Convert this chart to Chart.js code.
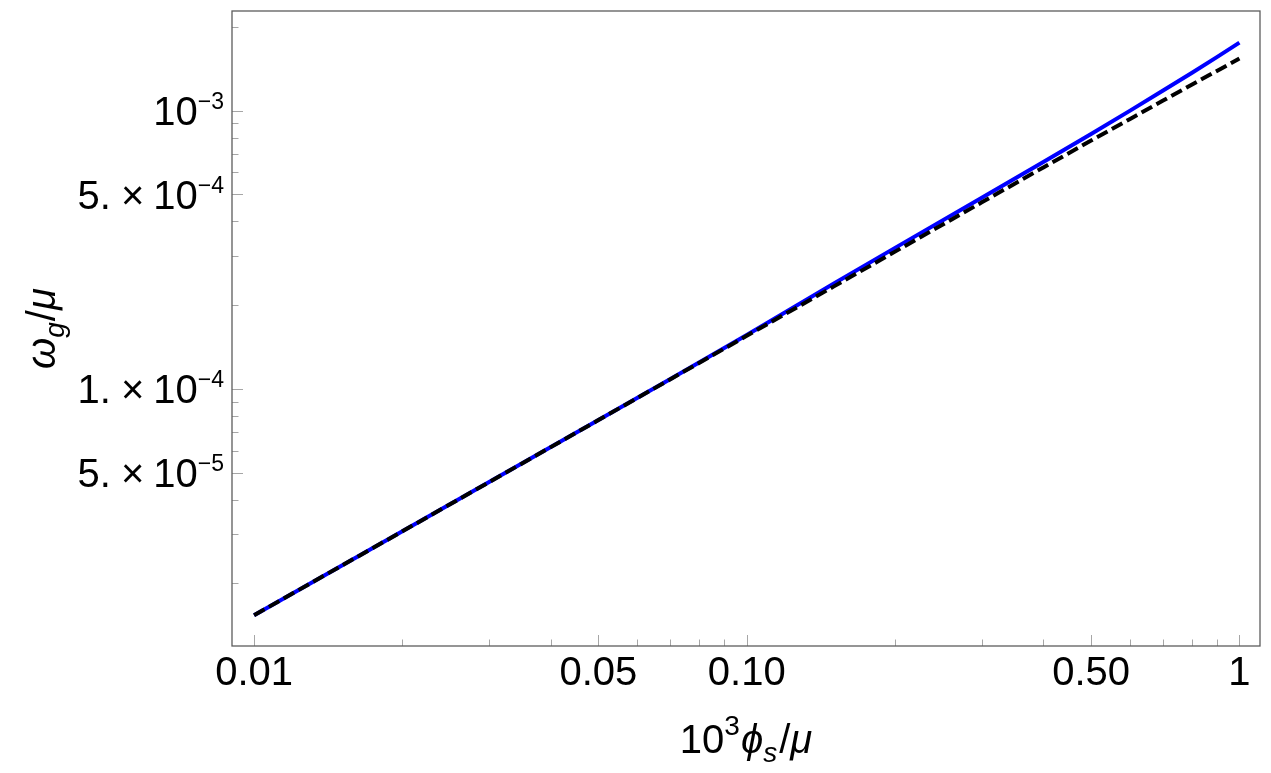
<!DOCTYPE html>
<html>
<head>
<meta charset="utf-8">
<script src="https://cdn.jsdelivr.net/npm/chart.js@4.4.1/dist/chart.umd.min.js"></script>
<style>
  html, body { margin: 0; padding: 0; background: #fff; }
</style>
</head>
<body>
<canvas id="chart" width="1271" height="773"></canvas>
<script>
// values (log-log)
const phiValues = [0.01, 0.02, 0.03, 0.05, 0.07, 0.1, 0.15, 0.2, 0.3, 0.4, 0.5, 0.6, 0.7, 0.8, 0.9, 1];
const omegaFull = [1.535e-5, 3.076e-5, 4.62e-5, 7.725e-5, 1.085e-4, 1.56e-4, 2.385e-4, 3.21e-4, 4.86e-4,
  6.532e-4, 8.24e-4, 9.996e-4, 1.1802e-3, 1.3648e-3, 1.5561e-3, 1.755e-3];
const omegaApprox = [1.535e-5, 3.074e-5, 4.62e-5, 7.72e-5, 1.0829e-4, 1.55e-4, 2.3295e-4, 3.112e-4, 4.68e-4,
  6.248e-4, 7.8e-4, 9.336e-4, 1.0864e-3, 1.2384e-3, 1.3887e-3, 1.538e-3];

const xMajorTicks = [0.01, 0.05, 0.1, 0.5, 1];
const xMajorLabels = ['0.01', '0.05', '0.10', '0.50', '1'];
const xMinorTicks = [0.02, 0.03, 0.04, 0.06, 0.07, 0.08, 0.09, 0.2, 0.3, 0.4, 0.6, 0.7, 0.8, 0.9];

// y labels as mantissa / exponent pairs ("5. × 10^-5" style)
const yMajorTicks = [5e-5, 1e-4, 5e-4, 1e-3];
const yMantissas = ['5.', '1.', '5.', ''];
const yExponents = ['\u22125', '\u22124', '\u22124', '\u22123'];
const yMinorTicks = [2e-5, 3e-5, 4e-5, 6e-5, 7e-5, 8e-5, 9e-5, 2e-4, 3e-4, 4e-4, 6e-4, 7e-4, 8e-4, 9e-4, 2e-3];

const FONT = "'Liberation Sans', Arial, sans-serif";

const findIndex = (v, majors) => majors.findIndex(m => Math.abs(m - v) / m < 1e-6);

const setTicks = (majors, minors) => scale => {
  const all = majors.map(v => ({ value: v, major: true }))
    .concat(minors.map(v => ({ value: v, major: false })));
  all.sort((a, b) => a.value - b.value);
  scale.ticks = all;
};

// inward tick marks + frame, Mathematica style
const framePlugin = {
  id: 'frame',
  afterDatasetsDraw(chart) {
    const { ctx, chartArea: a, scales: { x, y } } = chart;
    ctx.save();
    ctx.strokeStyle = '#a6a6a6';
    ctx.lineWidth = 1;
    ctx.beginPath();
    x.ticks.forEach(t => {
      const px = Math.round(x.getPixelForValue(t.value)) + 0.5;
      ctx.moveTo(px, a.bottom);
      ctx.lineTo(px, a.bottom - (t.major ? 11 : 6.5));
    });
    y.ticks.forEach(t => {
      const py = Math.round(y.getPixelForValue(t.value)) + 0.5;
      ctx.moveTo(a.left, py);
      ctx.lineTo(a.left + (t.major ? 11 : 6.5), py);
    });
    ctx.stroke();
    ctx.strokeStyle = '#5c5c5c';
    ctx.lineWidth = 1.3;
    ctx.strokeRect(a.left, a.top, a.right - a.left, a.bottom - a.top);
    ctx.restore();
  }
};

const fontOf = p => `${p.italic ? 'italic ' : ''}${p.size}px ${FONT}`;

// lay out a run of text pieces; align: 'center' or 'right' around x = 0
const drawRich = (ctx, parts, align) => {
  let total = 0;
  parts.forEach(p => { ctx.font = fontOf(p); p.w = ctx.measureText(p.t).width; total += p.w + (p.gap || 0); });
  let cx = align === 'right' ? -total : -total / 2;
  parts.forEach(p => {
    ctx.font = fontOf(p);
    ctx.fillText(p.t, cx, p.dy || 0);
    cx += p.w + (p.gap || 0);
  });
};

const labelPlugin = {
  id: 'richLabels',
  afterDraw(chart) {
    const { ctx, chartArea: a, scales: { y } } = chart;
    ctx.save();
    ctx.fillStyle = '#000';
    ctx.textBaseline = 'alphabetic';
    ctx.textAlign = 'left';

    // y tick labels with real superscripts
    yMajorTicks.forEach((v, i) => {
      const py = y.getPixelForValue(v);
      const parts = [];
      if (yMantissas[i]) {
        parts.push({ t: yMantissas[i], size: 40, dy: 14.5, gap: 10 });
        parts.push({ t: '×', size: 40, dy: 14.5, gap: 9 });
      }
      parts.push({ t: '10', size: 40, dy: 14.5 });
      parts.push({ t: yExponents[i], size: 23, dy: -1.7 });
      ctx.save();
      ctx.translate(a.left - 8, py);
      drawRich(ctx, parts, 'right');
      ctx.restore();
    });

    // x title
    ctx.save();
    ctx.translate((a.left + a.right) / 2, 753);
    drawRich(ctx, [
      { t: '10', size: 40 },
      { t: '3', size: 28, dy: -18, gap: 1 },
      { t: 'ϕ', size: 40, italic: true },
      { t: 's', size: 28, italic: true, dy: 9, gap: 2 },
      { t: '/', size: 40 },
      { t: 'μ', size: 40, italic: true }
    ], 'center');
    ctx.restore();

    // y title
    ctx.save();
    ctx.translate(55, (a.top + a.bottom) / 2);
    ctx.rotate(-Math.PI / 2);
    drawRich(ctx, [
      { t: 'ω', size: 40, italic: true },
      { t: 'g', size: 28, italic: true, dy: 9, gap: 1 },
      { t: '/', size: 40 },
      { t: 'μ', size: 40, italic: true }
    ], 'center');
    ctx.restore();

    ctx.restore();
  }
};

new Chart(document.getElementById('chart'), {
  type: 'line',
  data: {
    datasets: [
      {
        label: 'full',
        data: phiValues.map((v, i) => ({ x: v, y: omegaFull[i] })),
        borderColor: '#0000ff',
        borderWidth: 4,
        pointRadius: 0,
        tension: 0,
        order: 1
      },
      {
        label: 'approx',
        data: phiValues.map((v, i) => ({ x: v, y: omegaApprox[i] })),
        borderColor: '#000000',
        borderWidth: 4,
        borderDash: [12, 5],
        borderCapStyle: 'butt',
        pointRadius: 0,
        tension: 0,
        order: 0
      }
    ]
  },
  options: {
    responsive: false,
    animation: false,
    devicePixelRatio: 1,
    layout: { padding: { top: 11, right: 11, left: 0, bottom: 0 } },
    plugins: { legend: { display: false }, tooltip: { enabled: false } },
    scales: {
      x: {
        type: 'logarithmic',
        min: 0.00902,
        max: 1.101,
        afterBuildTicks: setTicks(xMajorTicks, xMinorTicks),
        afterFit: s => { s.height = 127; s.paddingLeft = 0; s.paddingRight = 0; },
        grid: { display: false, drawTicks: false },
        border: { display: false },
        ticks: {
          autoSkip: false,
          maxRotation: 0,
          minRotation: 0,
          padding: 4,
          color: '#000',
          font: { family: FONT, size: 40 },
          callback: v => {
            const i = findIndex(v, xMajorTicks);
            return i >= 0 ? xMajorLabels[i] : '';
          }
        }
      },
      y: {
        type: 'logarithmic',
        min: 1.19e-5,
        max: 2.28e-3,
        afterBuildTicks: setTicks(yMajorTicks, yMinorTicks),
        afterFit: s => { s.width = 232; s.paddingTop = 0; s.paddingBottom = 0; },
        grid: { display: false, drawTicks: false },
        border: { display: false },
        ticks: { display: false }
      }
    }
  },
  plugins: [framePlugin, labelPlugin]
});
</script>
</body>
</html>
